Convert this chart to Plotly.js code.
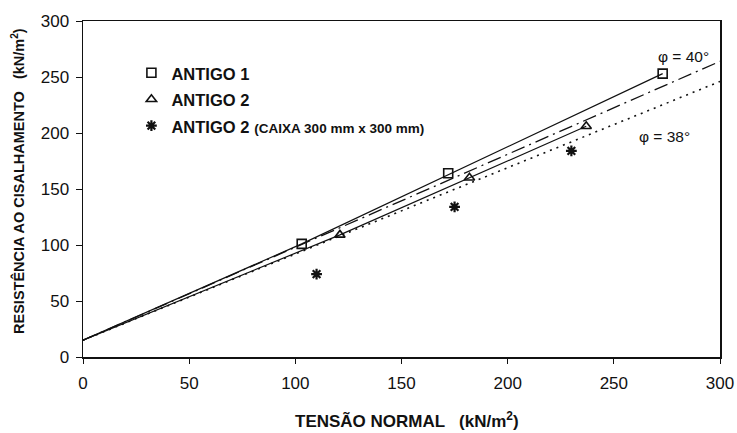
<!DOCTYPE html>
<html>
<head>
<meta charset="utf-8">
<script src="https://cdn.plot.ly/plotly-3.0.1.min.js"></script>
<style>html,body{margin:0;padding:0;background:#fff;}#chart{width:737px;height:433px;}</style>
</head>
<body>
<div id="chart"></div>
<script>
// Data
const antigo1X = [103, 172, 273];
const antigo1Y = [101, 164, 253];
const antigo2X = [121, 182, 237];
const antigo2Y = [109, 160, 206];
const caixaX = [110, 175, 230];
const caixaY = [74, 134, 184];
// fitted envelopes (solid) through the data, starting at the intercept
const fit1X = [0, 103, 273];
const fit1Y = [15, 101, 253];
const fit2X = [0, 121, 237];
const fit2Y = [15, 109, 206];
// phi lines
const phi40X = [0, 300];
const phi40Y = [15, 264];
const phi38X = [0, 300];
const phi38Y = [15, 246];
const xTicks = [0, 50, 100, 150, 200, 250, 300];
const yTicks = [0, 50, 100, 150, 200, 250, 300];
const names = ['<span style="font-size:16.5px">ANTIGO 1</span>',
               '<span style="font-size:16.5px">ANTIGO 2</span>',
               '<span style="font-size:16.5px">ANTIGO 2</span> <span style="font-size:13.5px">(CAIXA 300 mm x 300 mm)</span>'];
const phiLabels = ['\u03c6 = 40\u00b0', '\u03c6 = 38\u00b0'];
const xTitle = 'TENSÃO NORMAL   (kN/m<sup>2</sup>)';
const yTitle = 'RESISTÊNCIA AO CISALHAMENTO   (kN/m<sup>2</sup>)';

const ink = '#111';
const traces = [
  {x: phi40X, y: phi40Y, mode: 'lines', showlegend: false, hoverinfo: 'skip',
   line: {color: ink, width: 1.3, dash: '14px,5px,2px,5px'}},
  {x: phi38X, y: phi38Y, mode: 'lines', showlegend: false, hoverinfo: 'skip',
   line: {color: ink, width: 1.6, dash: '2px,5px'}},
  {x: fit1X, y: fit1Y, mode: 'lines', showlegend: false, hoverinfo: 'skip',
   line: {color: ink, width: 1.2}},
  {x: fit2X, y: fit2Y, mode: 'lines', showlegend: false, hoverinfo: 'skip',
   line: {color: ink, width: 1.2}},
  {x: antigo1X, y: antigo1Y, mode: 'markers', name: names[0],
   marker: {symbol: 'square-open', size: 9, color: ink, line: {width: 1.6, color: ink}}},
  {x: antigo2X, y: antigo2Y, mode: 'markers', name: names[1],
   marker: {symbol: 'triangle-up-open', size: 9, color: ink, line: {width: 1.6, color: ink}}},
  {x: caixaX, y: caixaY, mode: 'markers', name: names[2],
   marker: {symbol: 'asterisk-open', size: 9, color: ink, line: {width: 2.2, color: ink}}}
];

const font = 'Liberation Sans, Arial, sans-serif';
const layout = {
  width: 737, height: 433,
  margin: {l: 83, r: 17, t: 21, b: 76},
  paper_bgcolor: '#fff', plot_bgcolor: '#fff',
  font: {family: font, color: ink},
  showlegend: true,
  legend: {x: 0.076, y: 0.9, xanchor: 'left', yanchor: 'top',
    bgcolor: 'rgba(0,0,0,0)', font: {size: 18, family: font, weight: 'bold', color: ink},
    itemwidth: 30},
  xaxis: {range: [0, 300], tickvals: xTicks, ticks: 'outside', ticklen: 5, tickwidth: 1,
    tickcolor: ink, showline: true, linecolor: ink, linewidth: 1.5, mirror: true,
    showgrid: false, zeroline: false, tickfont: {size: 17, family: font},
    ticklabelstandoff: 5},
  yaxis: {range: [0, 300], tickvals: yTicks, ticks: 'outside', ticklen: 6, tickwidth: 1,
    tickcolor: ink, showline: true, linecolor: ink, linewidth: 1.5, mirror: true,
    showgrid: false, zeroline: false, tickfont: {size: 17, family: font},
    ticklabelstandoff: 3},
  annotations: [
    {x: 283, y: 268, xref: 'x', yref: 'y', text: phiLabels[0], showarrow: false,
     font: {size: 15.5, family: font, color: ink}},
    {x: 274, y: 197, xref: 'x', yref: 'y', text: phiLabels[1], showarrow: false,
     font: {size: 15.5, family: font, color: ink}},
    {x: 0.5086, y: -0.1875, xref: 'paper', yref: 'paper', text: xTitle,
     showarrow: false, xanchor: 'center', yanchor: 'middle',
     font: {size: 17, family: font, weight: 'bold', color: ink}},
    {x: -0.102, y: 0.524, xref: 'paper', yref: 'paper', text: yTitle,
     showarrow: false, textangle: -90, xanchor: 'center', yanchor: 'middle',
     font: {size: 14.5, family: font, weight: 'bold', color: ink}}
  ]
};
Plotly.newPlot('chart', traces, layout, {displayModeBar: false, staticPlot: true});
</script>
</body>
</html>
